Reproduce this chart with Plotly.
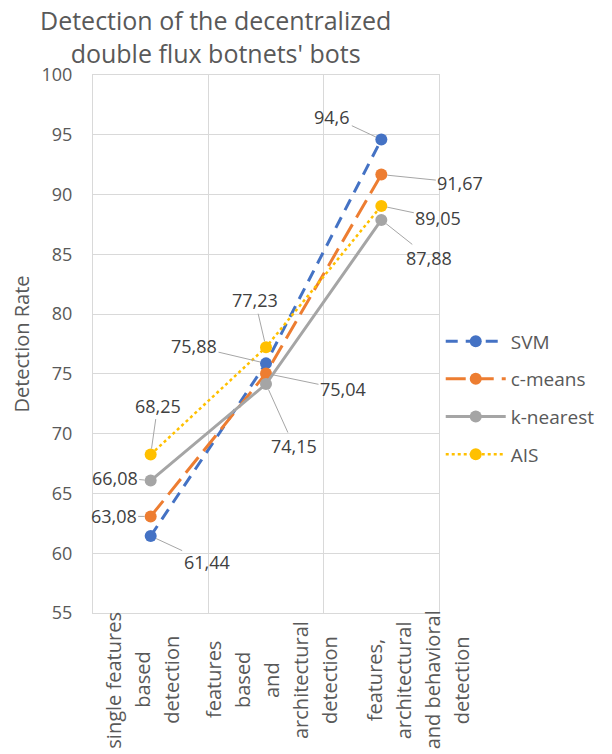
import plotly.graph_objects as go

# Detection stages (x categories) and detection rates per method
categories = [
    "single features<br>based<br>detection",
    "features<br>based<br>and<br>architectural<br>detection",
    "features,<br>architectural<br>and behavioral<br>detection",
]
svm = [61.44, 75.88, 94.6]
c_means = [63.08, 75.04, 91.67]
k_nearest = [66.08, 74.15, 87.88]
ais = [68.25, 77.23, 89.05]

series = [
    ("SVM", svm, "#4472C4", "12px,8px", 3),
    ("c-means", c_means, "#ED7D31", "20px,8px", 3),
    ("k-nearest", k_nearest, "#A5A5A5", "solid", 3),
    ("AIS", ais, "#FFC000", "dot", 2.5),
]

# pixel offsets of each value label from its point (per series, per category)
label_offsets = {
    "SVM": [(56, 26), (-72, -17), (-49, -23)],
    "c-means": [(-37, 0), (77, 16), (79, 8)],
    "k-nearest": [(-36, -3), (28, 62), (48, 38)],
    "AIS": [(7, -49), (-11, -47), (57, 12)],
}

TEXT = "#595959"
LABEL = "#404040"
GRID = "#D9D9D9"
FONT = "Open Sans"

fig = go.Figure()
annotations = []

for name, vals, color, dash, width in series:
    fig.add_trace(go.Scatter(
        x=categories, y=vals, name=name, legendgroup=name,
        mode="lines+markers",
        line=dict(color=color, width=width, dash=dash),
        marker=dict(color=color, size=12, symbol="circle"),
    ))
    for cat, v, (dx, dy) in zip(categories, vals, label_offsets[name]):
        annotations.append(dict(
            x=cat, y=v, xref="x", yref="y",
            text=f"{v:g}".replace(".", ","),
            showarrow=True, arrowhead=0, arrowwidth=1, arrowcolor="#A6A6A6",
            ax=dx, ay=dy, standoff=6,
            font=dict(family=FONT, size=18, color=LABEL),
        ))

# category labels, rotated, one line at a time
line_gap = 29
block_start = [-38, -53, -7]
for cat, start in zip(categories, block_start):
    for i, part in enumerate(cat.split("<br>")):
        annotations.append(dict(
            x=cat, xref="x", y=0, yref="paper",
            yshift=-67, xshift=start + i * line_gap,
            text=part, textangle=-90, showarrow=False,
            xanchor="center", yanchor="middle",
            font=dict(family=FONT, size=20, color=TEXT),
        ))

# chart title
annotations.append(dict(
    text="Detection of the decentralized<br>double flux botnets' bots",
    x=(219 - 93) / 355, xref="paper", xanchor="center",
    y=1, yref="paper", yanchor="bottom", yshift=3,
    showarrow=False, align="center",
    font=dict(family=FONT, size=25, color=TEXT),
))

fig.update_layout(
    width=612, height=754,
    margin=dict(l=93, r=164, t=75, b=141),
    paper_bgcolor="white", plot_bgcolor="white",
    font=dict(family=FONT, color=TEXT),
    xaxis=dict(
        type="category", tickson="boundaries", range=[-0.5, 2.5],
        showticklabels=False, ticks="",
        showgrid=True, gridcolor=GRID, gridwidth=1,
        showline=True, linecolor=GRID, mirror=True,
        zeroline=False,
    ),
    yaxis=dict(
        range=[55, 100], dtick=5,
        showgrid=True, gridcolor=GRID, gridwidth=1,
        showline=True, linecolor=GRID, mirror=True,
        zeroline=False,
        ticks="outside", ticklen=16, tickcolor="rgba(0,0,0,0)",
        tickfont=dict(family=FONT, size=18, color=TEXT),
        title=dict(text="Detection Rate", standoff=6,
                   font=dict(family=FONT, size=20, color=TEXT)),
    ),
    legend=dict(
        x=1.005, xanchor="left", y=0.4, yanchor="middle",
        font=dict(family=FONT, size=19, color=TEXT),
        tracegroupgap=10, itemwidth=60,
        bgcolor="rgba(0,0,0,0)",
    ),
    annotations=annotations,
)

fig.write_html("out.html")
